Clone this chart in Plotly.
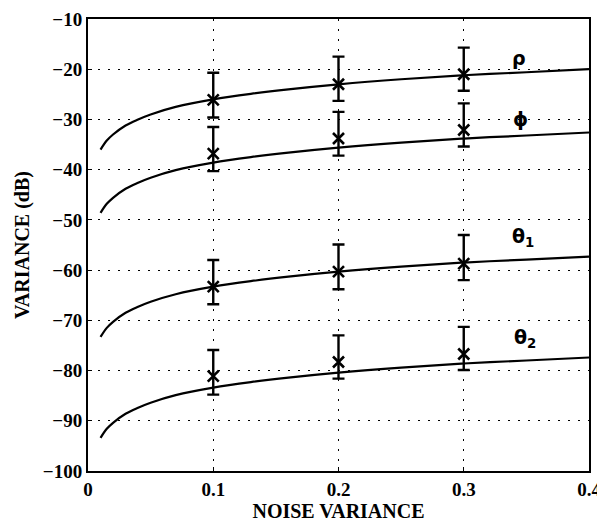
import plotly.graph_objects as go

# Noise variance sample points for the fitted curves
noise_x = [0.01, 0.015, 0.02, 0.03, 0.04, 0.05, 0.07, 0.1, 0.13, 0.16, 0.2, 0.25, 0.3, 0.35, 0.4]

rho_curve = [-36.0, -34.2, -33.0, -31.2, -30.0, -29.0, -27.5, -26.0, -24.9, -24.0, -23.0, -22.0, -21.2, -20.6, -20.0]
phi_curve = [-48.6, -46.8, -45.6, -43.8, -42.6, -41.6, -40.1, -38.6, -37.5, -36.6, -35.6, -34.6, -33.8, -33.2, -32.6]
theta1_curve = [-73.3, -71.5, -70.3, -68.5, -67.3, -66.3, -64.8, -63.3, -62.2, -61.3, -60.3, -59.3, -58.5, -57.9, -57.3]
theta2_curve = [-93.4, -91.6, -90.4, -88.6, -87.4, -86.4, -84.9, -83.4, -82.3, -81.4, -80.4, -79.4, -78.6, -78.0, -77.4]

# Simulation points (x markers) with error bar extents
sim_x = [0.1, 0.2, 0.3]
rho_pts = [-26.1, -23.0, -21.0]
rho_top = [-20.7, -17.5, -15.7]
rho_bot = [-29.6, -26.3, -24.3]
phi_pts = [-36.8, -33.8, -32.1]
phi_top = [-31.5, -28.5, -26.8]
phi_bot = [-40.3, -37.2, -35.4]
theta1_pts = [-63.3, -60.3, -58.7]
theta1_top = [-58.0, -54.9, -53.0]
theta1_bot = [-66.8, -63.8, -62.0]
theta2_pts = [-81.1, -78.3, -76.7]
theta2_top = [-75.9, -73.0, -71.3]
theta2_bot = [-84.8, -81.6, -79.9]

x_ticks = [0, 0.1, 0.2, 0.3, 0.4]
x_tick_labels = ["0", "0.1", "0.2", "0.3", "0.4"]
y_ticks = [-100, -90, -80, -70, -60, -50, -40, -30, -20, -10]
y_tick_labels = ["\u2212100", "\u221290", "\u221280", "\u221270", "\u221260", "\u221250", "\u221240", "\u221230", "\u221220", "\u221210"]

fig = go.Figure()

for curve in [rho_curve, phi_curve, theta1_curve, theta2_curve]:
    fig.add_trace(go.Scatter(x=noise_x, y=curve, mode="lines",
                             line=dict(color="black", width=2.2, shape="spline"),
                             showlegend=False, hoverinfo="skip"))

for pts, top, bot in [(rho_pts, rho_top, rho_bot), (phi_pts, phi_top, phi_bot),
                      (theta1_pts, theta1_top, theta1_bot), (theta2_pts, theta2_top, theta2_bot)]:
    fig.add_trace(go.Scatter(
        x=sim_x, y=pts, mode="markers",
        marker=dict(symbol="x-thin", size=11, line=dict(color="black", width=2.6), color="black"),
        error_y=dict(type="data", symmetric=False,
                     array=[t - p for t, p in zip(top, pts)],
                     arrayminus=[p - b for p, b in zip(pts, bot)],
                     color="black", thickness=2.4, width=6),
        showlegend=False))

greek_font = dict(family="DejaVu Sans", size=19, color="black", weight="bold")
labels = [("\u03c1", 0.344, -17.8), ("\u03d5", 0.345, -30.0),
          ("\u03b8<sub>1</sub>", 0.347, -53.6), ("\u03b8<sub>2</sub>", 0.349, -73.6)]
for txt, lx, ly in labels:
    fig.add_annotation(x=lx, y=ly, text=txt, showarrow=False, font=greek_font,
                       xanchor="center", yanchor="middle")

tick_font = dict(family="Liberation Serif", size=19, color="black", weight="bold")
title_font = dict(family="Liberation Serif", size=20, color="black", weight="bold")
fig.update_xaxes(range=[0, 0.4], tickvals=x_ticks, ticktext=x_tick_labels,
                 showgrid=True, gridcolor="black", gridwidth=1, griddash="2px,8px",
                 showline=True, linecolor="black", linewidth=2, mirror=True,
                 ticks="inside", ticklen=4, tickcolor="black", automargin=False,
                 zeroline=False, tickfont=tick_font,
                 title=dict(text="NOISE VARIANCE", font=title_font, standoff=2))
fig.update_yaxes(range=[-100, -10], tickvals=y_ticks, ticktext=y_tick_labels,
                 showgrid=True, gridcolor="black", gridwidth=1, griddash="2px,8px",
                 showline=True, linecolor="black", linewidth=2, mirror=True,
                 ticks="inside", ticklen=4, tickcolor="black", automargin=False,
                 zeroline=False, tickfont=tick_font,
                 title=dict(text="VARIANCE (dB)", font=title_font, standoff=8))

# page body adds an 8px offset; margins compensate so the plot area lands where the reference has it
fig.update_layout(width=605, height=523, plot_bgcolor="white", paper_bgcolor="white",
                  margin=dict(l=80, r=24, t=11, b=60))

fig.write_html("out.html")
